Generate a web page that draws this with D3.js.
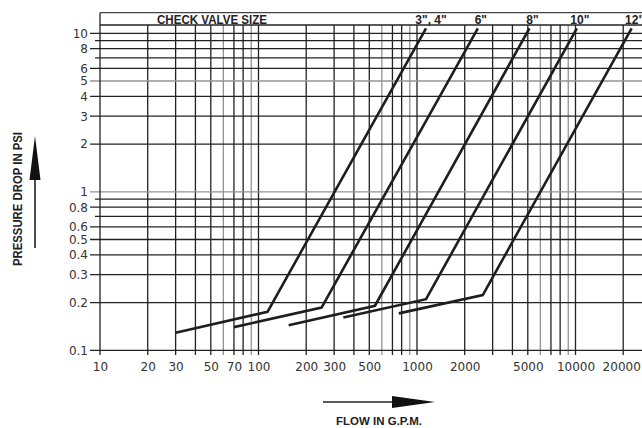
<!DOCTYPE html>
<html>
<head>
<meta charset="utf-8">
<script src="https://cdn.jsdelivr.net/npm/d3@7"></script>
<style>
  body { margin: 0; background: #fff; }
  svg { display: block; }
  .tick text { font-family: "DejaVu Sans", sans-serif; font-size: 12px; fill: #333; }
  .bold { font-family: "Liberation Sans Narrow", "Liberation Sans", Arial, sans-serif; font-weight: bold; fill: #222; }
</style>
</head>
<body>
<script>
// check valve sizes and their curves (flow gpm, pressure drop psi)
const sizes = ['3", 4"', '6"', '8"', '10"', '12"']
const flows = [
    [30, 114, 1140],
    [70, 250, 2420],
    [155, 543, 5120],
    [343, 1140, 10200],
    [767, 2600, 22600]
]
const drops = [
    [0.129, 0.175, 10.75],
    [0.140, 0.186, 10.75],
    [0.144, 0.191, 10.75],
    [0.161, 0.210, 10.75],
    [0.171, 0.223, 10.75]
]

// ticks
const xTicks = [10, 20, 30, 50, 70, 100, 200, 300, 500, 1000, 2000, 5000, 10000, 20000]
const yTicks = [0.1, 0.2, 0.3, 0.4, 0.5, 0.6, 0.8, 1, 2, 3, 4, 5, 6, 8, 10]

const width = 642, height = 428

const svg = d3.select('body').append('svg').attr('width', width).attr('height', height)

const x = d3.scaleLog().domain([10, 100000]).range([100, 734])
const y = d3.scaleLog().domain([0.1, 10]).range([350.3, 33.3])

const boxTop = 12.7, plotTop = 25, plotBottom = 355

// grid lines: every 1..9 in each decade
const vLines = []
for (let d = 10; d <= 10000; d *= 10) for (let k = 1; k < 10; k++) vLines.push(d * k)
const hLines = []
for (let d = 0.1; d < 10; d *= 10) for (let k = 1; k < 10; k++) hLines.push(+(d * k).toFixed(2))
hLines.push(10)

const isGray = v => {
    const m = Math.round(v / Math.pow(10, Math.floor(Math.log10(v) + 1e-9)))
    return m === 6 || m === 9
}

svg.append('g').selectAll('line').data(vLines.filter(v => v > 10 && x(v) < width)).join('line')
    .attr('x1', d => x(d)).attr('x2', d => x(d))
    .attr('y1', plotTop).attr('y2', plotBottom)
    .attr('stroke', d => isGray(d) ? '#939393' : '#222')
    .attr('stroke-width', 1.3)

svg.append('g').selectAll('line').data(hLines).join('line')
    .attr('x1', d => yTicks.includes(d) ? 90 : 95).attr('x2', width)
    .attr('y1', d => y(d)).attr('y2', d => y(d))
    .attr('stroke', d => (d === 1 || d === 5) ? '#939393' : '#222')
    .attr('stroke-width', 1.3)

// frame and header box
svg.append('line').attr('x1', 100).attr('x2', 100).attr('y1', boxTop).attr('y2', plotBottom)
    .attr('stroke', '#222').attr('stroke-width', 1.3)
svg.append('line').attr('x1', 100).attr('x2', width).attr('y1', boxTop).attr('y2', boxTop)
    .attr('stroke', '#444').attr('stroke-width', 1.2)
svg.append('line').attr('x1', 100).attr('x2', width).attr('y1', plotTop).attr('y2', plotTop)
    .attr('stroke', '#222').attr('stroke-width', 1.3)

svg.append('text').attr('class', 'bold').attr('x', 212).attr('y', 23.5)
    .attr('text-anchor', 'middle').attr('font-size', 12.5).attr('textLength', 110)
    .attr('lengthAdjust', 'spacingAndGlyphs').text('CHECK VALVE SIZE')

// axes (labels only)
const xAxis = d3.axisBottom(x).tickValues(xTicks).tickFormat(d3.format('d')).tickSize(0).tickPadding(7)
svg.append('g').attr('transform', `translate(0,${plotBottom})`).call(xAxis)
    .call(g => g.select('.domain').remove())
    .call(g => g.selectAll('.tick text').filter(d => d === 20000).attr('dx', -2))

const yAxis = d3.axisLeft(y).tickValues(yTicks).tickFormat(d => d < 1 ? d3.format('.1f')(d) : d).tickSize(0).tickPadding(12)
svg.append('g').attr('transform', 'translate(100,0)').call(yAxis)
    .call(g => g.select('.domain').remove())

// curves
const line = d3.line().x(d => x(d[0])).y(d => y(d[1]))
sizes.forEach((s, i) => {
    const pts = flows[i].map((f, j) => [f, drops[i][j]])
    svg.append('path').attr('d', line(pts))
        .attr('fill', 'none').attr('stroke', '#1e1e1e').attr('stroke-width', 2.6)
    const end = pts[pts.length - 1]
    svg.append('text').attr('class', 'bold').attr('font-size', 12)
        .attr('x', x(end[0]) + (i === 0 ? 5 : 3)).attr('y', 23.5)
        .attr('text-anchor', 'middle').text(s)
})

// axis titles with arrows
svg.append('text').attr('class', 'bold').attr('font-size', 12.5)
    .attr('transform', 'translate(22,199) rotate(-90)')
    .attr('text-anchor', 'middle').attr('textLength', 134).attr('lengthAdjust', 'spacingAndGlyphs')
    .text('PRESSURE DROP IN PSI')
svg.append('line').attr('x1', 35).attr('x2', 35).attr('y1', 248).attr('y2', 175)
    .attr('stroke', '#222').attr('stroke-width', 1.6)
svg.append('path').attr('d', 'M35,136 L40.5,180 L29.5,180 Z').attr('fill', '#111')

svg.append('text').attr('class', 'bold').attr('font-size', 11.5)
    .attr('x', 379).attr('y', 425).attr('text-anchor', 'middle')
    .attr('textLength', 86).attr('lengthAdjust', 'spacingAndGlyphs')
    .text('FLOW IN G.P.M.')
svg.append('line').attr('x1', 323).attr('x2', 395).attr('y1', 402).attr('y2', 402)
    .attr('stroke', '#222').attr('stroke-width', 1.6)
svg.append('path').attr('d', 'M435,402 L392,396 L392,408 Z').attr('fill', '#111')
</script>
</body>
</html>
